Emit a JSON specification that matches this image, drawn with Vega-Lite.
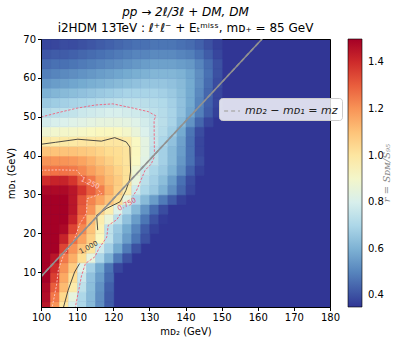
{
"$schema":"https://vega.github.io/schema/vega-lite/v6.json",
"width":289,"height":268,
"autosize":{"type":"none"},
"padding":{"left":41,"top":39,"right":77,"bottom":39},
"config":{"view":{"fill":"#313695","stroke":"black","strokeWidth":1},"font":"DejaVu Sans",
 "axis":{"grid":false,"labelFontSize":10,"labelColor":"black","tickColor":"black","domainColor":"black","tickSize":3.5,"labelPadding":2,"labelFlush":false,"titleFontSize":10,"titleFontWeight":"normal","titleColor":"black","labelFont":"DejaVu Sans","titleFont":"DejaVu Sans"}},
"title":{"text":"pp → 2ℓ/3ℓ + DM, DM","subtitle":"i2HDM 13TeV : ℓ⁺ℓ⁻ + Eₜᵐⁱˢˢ, mᴅ₊ = 85 GeV","fontSize":12,"fontStyle":"italic","fontWeight":"normal","font":"DejaVu Sans","subtitleFont":"DejaVu Sans","subtitleFontSize":12,"subtitleColor":"black","subtitlePadding":4,"offset":-1,"anchor":"middle","color":"black"},
"datasets":{
"grid":[
{"x":101.25,"y":1.25,"v":1.45},{"x":103.75,"y":1.25,"v":1.2},{"x":106.25,"y":1.25,"v":1.0},{"x":108.75,"y":1.25,"v":0.8},{"x":111.25,"y":1.25,"v":0.7},{"x":113.75,"y":1.25,"v":0.62},{"x":116.25,"y":1.25,"v":0.52},{"x":118.75,"y":1.25,"v":0.42},
{"x":101.25,"y":3.75,"v":1.47},{"x":103.75,"y":3.75,"v":1.25},{"x":106.25,"y":3.75,"v":1.05},{"x":108.75,"y":3.75,"v":0.85},{"x":111.25,"y":3.75,"v":0.7},{"x":113.75,"y":3.75,"v":0.62},{"x":116.25,"y":3.75,"v":0.52},{"x":118.75,"y":3.75,"v":0.42},
{"x":101.25,"y":6.25,"v":1.48},{"x":103.75,"y":6.25,"v":1.3},{"x":106.25,"y":6.25,"v":1.12},{"x":108.75,"y":6.25,"v":0.98},{"x":111.25,"y":6.25,"v":0.74},{"x":113.75,"y":6.25,"v":0.63},{"x":116.25,"y":6.25,"v":0.53},{"x":118.75,"y":6.25,"v":0.43},
{"x":101.25,"y":8.75,"v":1.5},{"x":103.75,"y":8.75,"v":1.36},{"x":106.25,"y":8.75,"v":1.16},{"x":108.75,"y":8.75,"v":1.03},{"x":111.25,"y":8.75,"v":0.77},{"x":113.75,"y":8.75,"v":0.64},{"x":116.25,"y":8.75,"v":0.55},{"x":118.75,"y":8.75,"v":0.45},
{"x":101.25,"y":11.25,"v":1.5},{"x":103.75,"y":11.25,"v":1.4},{"x":106.25,"y":11.25,"v":1.2},{"x":108.75,"y":11.25,"v":1.08},{"x":111.25,"y":11.25,"v":0.82},{"x":113.75,"y":11.25,"v":0.68},{"x":116.25,"y":11.25,"v":0.58},{"x":118.75,"y":11.25,"v":0.47},{"x":121.25,"y":11.25,"v":0.38},
{"x":101.25,"y":13.75,"v":1.5},{"x":103.75,"y":13.75,"v":1.45},{"x":106.25,"y":13.75,"v":1.25},{"x":108.75,"y":13.75,"v":1.15},{"x":111.25,"y":13.75,"v":1.03},{"x":113.75,"y":13.75,"v":0.85},{"x":116.25,"y":13.75,"v":0.7},{"x":118.75,"y":13.75,"v":0.6},{"x":121.25,"y":13.75,"v":0.48},{"x":123.75,"y":13.75,"v":0.4},
{"x":101.25,"y":16.25,"v":1.5},{"x":103.75,"y":16.25,"v":1.5},{"x":106.25,"y":16.25,"v":1.35},{"x":108.75,"y":16.25,"v":1.2},{"x":111.25,"y":16.25,"v":1.1},{"x":113.75,"y":16.25,"v":1.0},{"x":116.25,"y":16.25,"v":0.78},{"x":118.75,"y":16.25,"v":0.68},{"x":121.25,"y":16.25,"v":0.58},{"x":123.75,"y":16.25,"v":0.48},{"x":126.25,"y":16.25,"v":0.4},
{"x":101.25,"y":18.75,"v":1.5},{"x":103.75,"y":18.75,"v":1.5},{"x":106.25,"y":18.75,"v":1.42},{"x":108.75,"y":18.75,"v":1.27},{"x":111.25,"y":18.75,"v":1.17},{"x":113.75,"y":18.75,"v":1.07},{"x":116.25,"y":18.75,"v":0.93},{"x":118.75,"y":18.75,"v":0.74},{"x":121.25,"y":18.75,"v":0.64},{"x":123.75,"y":18.75,"v":0.55},{"x":126.25,"y":18.75,"v":0.47},{"x":128.75,"y":18.75,"v":0.4},
{"x":101.25,"y":21.25,"v":1.5},{"x":103.75,"y":21.25,"v":1.5},{"x":106.25,"y":21.25,"v":1.48},{"x":108.75,"y":21.25,"v":1.35},{"x":111.25,"y":21.25,"v":1.22},{"x":113.75,"y":21.25,"v":1.1},{"x":116.25,"y":21.25,"v":0.95},{"x":118.75,"y":21.25,"v":0.74},{"x":121.25,"y":21.25,"v":0.66},{"x":123.75,"y":21.25,"v":0.58},{"x":126.25,"y":21.25,"v":0.5},{"x":128.75,"y":21.25,"v":0.42},{"x":131.25,"y":21.25,"v":0.37},
{"x":101.25,"y":23.75,"v":1.5},{"x":103.75,"y":23.75,"v":1.5},{"x":106.25,"y":23.75,"v":1.5},{"x":108.75,"y":23.75,"v":1.42},{"x":111.25,"y":23.75,"v":1.27},{"x":113.75,"y":23.75,"v":1.12},{"x":116.25,"y":23.75,"v":0.97},{"x":118.75,"y":23.75,"v":0.86},{"x":121.25,"y":23.75,"v":0.73},{"x":123.75,"y":23.75,"v":0.64},{"x":126.25,"y":23.75,"v":0.55},{"x":128.75,"y":23.75,"v":0.47},{"x":131.25,"y":23.75,"v":0.4},{"x":133.75,"y":23.75,"v":0.36},
{"x":101.25,"y":26.25,"v":1.5},{"x":103.75,"y":26.25,"v":1.5},{"x":106.25,"y":26.25,"v":1.5},{"x":108.75,"y":26.25,"v":1.45},{"x":111.25,"y":26.25,"v":1.3},{"x":113.75,"y":26.25,"v":1.2},{"x":116.25,"y":26.25,"v":1.07},{"x":118.75,"y":26.25,"v":0.97},{"x":121.25,"y":26.25,"v":0.82},{"x":123.75,"y":26.25,"v":0.71},{"x":126.25,"y":26.25,"v":0.62},{"x":128.75,"y":26.25,"v":0.53},{"x":131.25,"y":26.25,"v":0.45},{"x":133.75,"y":26.25,"v":0.39},
{"x":101.25,"y":28.75,"v":1.5},{"x":103.75,"y":28.75,"v":1.5},{"x":106.25,"y":28.75,"v":1.5},{"x":108.75,"y":28.75,"v":1.45},{"x":111.25,"y":28.75,"v":1.32},{"x":113.75,"y":28.75,"v":1.23},{"x":116.25,"y":28.75,"v":1.17},{"x":118.75,"y":28.75,"v":1.1},{"x":121.25,"y":28.75,"v":1.03},{"x":123.75,"y":28.75,"v":0.85},{"x":126.25,"y":28.75,"v":0.7},{"x":128.75,"y":28.75,"v":0.62},{"x":131.25,"y":28.75,"v":0.55},{"x":133.75,"y":28.75,"v":0.48},{"x":136.25,"y":28.75,"v":0.42},{"x":138.75,"y":28.75,"v":0.37},
{"x":101.25,"y":31.25,"v":1.48},{"x":103.75,"y":31.25,"v":1.48},{"x":106.25,"y":31.25,"v":1.48},{"x":108.75,"y":31.25,"v":1.45},{"x":111.25,"y":31.25,"v":1.38},{"x":113.75,"y":31.25,"v":1.3},{"x":116.25,"y":31.25,"v":1.24},{"x":118.75,"y":31.25,"v":1.15},{"x":121.25,"y":31.25,"v":1.07},{"x":123.75,"y":31.25,"v":0.98},{"x":126.25,"y":31.25,"v":0.78},{"x":128.75,"y":31.25,"v":0.7},{"x":131.25,"y":31.25,"v":0.66},{"x":133.75,"y":31.25,"v":0.6},{"x":136.25,"y":31.25,"v":0.52},{"x":138.75,"y":31.25,"v":0.44},{"x":141.25,"y":31.25,"v":0.38},
{"x":101.25,"y":33.75,"v":1.4},{"x":103.75,"y":33.75,"v":1.42},{"x":106.25,"y":33.75,"v":1.42},{"x":108.75,"y":33.75,"v":1.38},{"x":111.25,"y":33.75,"v":1.3},{"x":113.75,"y":33.75,"v":1.25},{"x":116.25,"y":33.75,"v":1.18},{"x":118.75,"y":33.75,"v":1.12},{"x":121.25,"y":33.75,"v":1.08},{"x":123.75,"y":33.75,"v":1.02},{"x":126.25,"y":33.75,"v":0.85},{"x":128.75,"y":33.75,"v":0.73},{"x":131.25,"y":33.75,"v":0.68},{"x":133.75,"y":33.75,"v":0.63},{"x":136.25,"y":33.75,"v":0.55},{"x":138.75,"y":33.75,"v":0.46},{"x":141.25,"y":33.75,"v":0.39},
{"x":101.25,"y":36.25,"v":1.25},{"x":103.75,"y":36.25,"v":1.26},{"x":106.25,"y":36.25,"v":1.26},{"x":108.75,"y":36.25,"v":1.25},{"x":111.25,"y":36.25,"v":1.22},{"x":113.75,"y":36.25,"v":1.18},{"x":116.25,"y":36.25,"v":1.14},{"x":118.75,"y":36.25,"v":1.1},{"x":121.25,"y":36.25,"v":1.06},{"x":123.75,"y":36.25,"v":1.02},{"x":126.25,"y":36.25,"v":0.88},{"x":128.75,"y":36.25,"v":0.76},{"x":131.25,"y":36.25,"v":0.7},{"x":133.75,"y":36.25,"v":0.66},{"x":136.25,"y":36.25,"v":0.6},{"x":138.75,"y":36.25,"v":0.52},{"x":141.25,"y":36.25,"v":0.43},{"x":143.75,"y":36.25,"v":0.37},
{"x":101.25,"y":38.75,"v":1.2},{"x":103.75,"y":38.75,"v":1.2},{"x":106.25,"y":38.75,"v":1.2},{"x":108.75,"y":38.75,"v":1.19},{"x":111.25,"y":38.75,"v":1.17},{"x":113.75,"y":38.75,"v":1.14},{"x":116.25,"y":38.75,"v":1.1},{"x":118.75,"y":38.75,"v":1.07},{"x":121.25,"y":38.75,"v":1.04},{"x":123.75,"y":38.75,"v":1.01},{"x":126.25,"y":38.75,"v":0.92},{"x":128.75,"y":38.75,"v":0.83},{"x":131.25,"y":38.75,"v":0.74},{"x":133.75,"y":38.75,"v":0.68},{"x":136.25,"y":38.75,"v":0.62},{"x":138.75,"y":38.75,"v":0.54},{"x":141.25,"y":38.75,"v":0.46},{"x":143.75,"y":38.75,"v":0.39},
{"x":101.25,"y":41.25,"v":1.1},{"x":103.75,"y":41.25,"v":1.1},{"x":106.25,"y":41.25,"v":1.1},{"x":108.75,"y":41.25,"v":1.1},{"x":111.25,"y":41.25,"v":1.09},{"x":113.75,"y":41.25,"v":1.08},{"x":116.25,"y":41.25,"v":1.06},{"x":118.75,"y":41.25,"v":1.04},{"x":121.25,"y":41.25,"v":1.03},{"x":123.75,"y":41.25,"v":1.01},{"x":126.25,"y":41.25,"v":0.93},{"x":128.75,"y":41.25,"v":0.84},{"x":131.25,"y":41.25,"v":0.74},{"x":133.75,"y":41.25,"v":0.68},{"x":136.25,"y":41.25,"v":0.62},{"x":138.75,"y":41.25,"v":0.55},{"x":141.25,"y":41.25,"v":0.46},{"x":143.75,"y":41.25,"v":0.38},
{"x":101.25,"y":43.75,"v":0.98},{"x":103.75,"y":43.75,"v":0.98},{"x":106.25,"y":43.75,"v":0.99},{"x":108.75,"y":43.75,"v":0.99},{"x":111.25,"y":43.75,"v":1.0},{"x":113.75,"y":43.75,"v":1.0},{"x":116.25,"y":43.75,"v":1.0},{"x":118.75,"y":43.75,"v":1.0},{"x":121.25,"y":43.75,"v":1.0},{"x":123.75,"y":43.75,"v":0.98},{"x":126.25,"y":43.75,"v":0.92},{"x":128.75,"y":43.75,"v":0.84},{"x":131.25,"y":43.75,"v":0.76},{"x":133.75,"y":43.75,"v":0.7},{"x":136.25,"y":43.75,"v":0.64},{"x":138.75,"y":43.75,"v":0.56},{"x":141.25,"y":43.75,"v":0.46},{"x":143.75,"y":43.75,"v":0.38},
{"x":101.25,"y":46.25,"v":0.88},{"x":103.75,"y":46.25,"v":0.89},{"x":106.25,"y":46.25,"v":0.9},{"x":108.75,"y":46.25,"v":0.9},{"x":111.25,"y":46.25,"v":0.91},{"x":113.75,"y":46.25,"v":0.92},{"x":116.25,"y":46.25,"v":0.93},{"x":118.75,"y":46.25,"v":0.93},{"x":121.25,"y":46.25,"v":0.92},{"x":123.75,"y":46.25,"v":0.9},{"x":126.25,"y":46.25,"v":0.86},{"x":128.75,"y":46.25,"v":0.81},{"x":131.25,"y":46.25,"v":0.76},{"x":133.75,"y":46.25,"v":0.72},{"x":136.25,"y":46.25,"v":0.67},{"x":138.75,"y":46.25,"v":0.58},{"x":141.25,"y":46.25,"v":0.47},{"x":143.75,"y":46.25,"v":0.39},
{"x":101.25,"y":48.75,"v":0.79},{"x":103.75,"y":48.75,"v":0.8},{"x":106.25,"y":48.75,"v":0.81},{"x":108.75,"y":48.75,"v":0.82},{"x":111.25,"y":48.75,"v":0.83},{"x":113.75,"y":48.75,"v":0.84},{"x":116.25,"y":48.75,"v":0.85},{"x":118.75,"y":48.75,"v":0.85},{"x":121.25,"y":48.75,"v":0.85},{"x":123.75,"y":48.75,"v":0.84},{"x":126.25,"y":48.75,"v":0.82},{"x":128.75,"y":48.75,"v":0.79},{"x":131.25,"y":48.75,"v":0.76},{"x":133.75,"y":48.75,"v":0.73},{"x":136.25,"y":48.75,"v":0.69},{"x":138.75,"y":48.75,"v":0.62},{"x":141.25,"y":48.75,"v":0.53},{"x":143.75,"y":48.75,"v":0.44},{"x":146.25,"y":48.75,"v":0.38},
{"x":101.25,"y":51.25,"v":0.72},{"x":103.75,"y":51.25,"v":0.73},{"x":106.25,"y":51.25,"v":0.74},{"x":108.75,"y":51.25,"v":0.75},{"x":111.25,"y":51.25,"v":0.77},{"x":113.75,"y":51.25,"v":0.78},{"x":116.25,"y":51.25,"v":0.79},{"x":118.75,"y":51.25,"v":0.8},{"x":121.25,"y":51.25,"v":0.8},{"x":123.75,"y":51.25,"v":0.79},{"x":126.25,"y":51.25,"v":0.78},{"x":128.75,"y":51.25,"v":0.76},{"x":131.25,"y":51.25,"v":0.74},{"x":133.75,"y":51.25,"v":0.72},{"x":136.25,"y":51.25,"v":0.69},{"x":138.75,"y":51.25,"v":0.64},{"x":141.25,"y":51.25,"v":0.57},{"x":143.75,"y":51.25,"v":0.49},{"x":146.25,"y":51.25,"v":0.42},{"x":148.75,"y":51.25,"v":0.37},
{"x":101.25,"y":53.75,"v":0.66},{"x":103.75,"y":53.75,"v":0.67},{"x":106.25,"y":53.75,"v":0.68},{"x":108.75,"y":53.75,"v":0.69},{"x":111.25,"y":53.75,"v":0.7},{"x":113.75,"y":53.75,"v":0.71},{"x":116.25,"y":53.75,"v":0.72},{"x":118.75,"y":53.75,"v":0.73},{"x":121.25,"y":53.75,"v":0.74},{"x":123.75,"y":53.75,"v":0.74},{"x":126.25,"y":53.75,"v":0.74},{"x":128.75,"y":53.75,"v":0.73},{"x":131.25,"y":53.75,"v":0.72},{"x":133.75,"y":53.75,"v":0.71},{"x":136.25,"y":53.75,"v":0.68},{"x":138.75,"y":53.75,"v":0.64},{"x":141.25,"y":53.75,"v":0.58},{"x":143.75,"y":53.75,"v":0.5},{"x":146.25,"y":53.75,"v":0.43},{"x":148.75,"y":53.75,"v":0.38},
{"x":101.25,"y":56.25,"v":0.6},{"x":103.75,"y":56.25,"v":0.61},{"x":106.25,"y":56.25,"v":0.62},{"x":108.75,"y":56.25,"v":0.63},{"x":111.25,"y":56.25,"v":0.64},{"x":113.75,"y":56.25,"v":0.65},{"x":116.25,"y":56.25,"v":0.66},{"x":118.75,"y":56.25,"v":0.67},{"x":121.25,"y":56.25,"v":0.68},{"x":123.75,"y":56.25,"v":0.69},{"x":126.25,"y":56.25,"v":0.69},{"x":128.75,"y":56.25,"v":0.69},{"x":131.25,"y":56.25,"v":0.69},{"x":133.75,"y":56.25,"v":0.68},{"x":136.25,"y":56.25,"v":0.66},{"x":138.75,"y":56.25,"v":0.63},{"x":141.25,"y":56.25,"v":0.58},{"x":143.75,"y":56.25,"v":0.51},{"x":146.25,"y":56.25,"v":0.44},{"x":148.75,"y":56.25,"v":0.38},
{"x":101.25,"y":58.75,"v":0.54},{"x":103.75,"y":58.75,"v":0.55},{"x":106.25,"y":58.75,"v":0.56},{"x":108.75,"y":58.75,"v":0.57},{"x":111.25,"y":58.75,"v":0.58},{"x":113.75,"y":58.75,"v":0.59},{"x":116.25,"y":58.75,"v":0.6},{"x":118.75,"y":58.75,"v":0.61},{"x":121.25,"y":58.75,"v":0.62},{"x":123.75,"y":58.75,"v":0.63},{"x":126.25,"y":58.75,"v":0.64},{"x":128.75,"y":58.75,"v":0.65},{"x":131.25,"y":58.75,"v":0.65},{"x":133.75,"y":58.75,"v":0.65},{"x":136.25,"y":58.75,"v":0.64},{"x":138.75,"y":58.75,"v":0.62},{"x":141.25,"y":58.75,"v":0.58},{"x":143.75,"y":58.75,"v":0.52},{"x":146.25,"y":58.75,"v":0.45},{"x":148.75,"y":58.75,"v":0.39},
{"x":101.25,"y":61.25,"v":0.49},{"x":103.75,"y":61.25,"v":0.5},{"x":106.25,"y":61.25,"v":0.51},{"x":108.75,"y":61.25,"v":0.52},{"x":111.25,"y":61.25,"v":0.53},{"x":113.75,"y":61.25,"v":0.54},{"x":116.25,"y":61.25,"v":0.55},{"x":118.75,"y":61.25,"v":0.56},{"x":121.25,"y":61.25,"v":0.57},{"x":123.75,"y":61.25,"v":0.58},{"x":126.25,"y":61.25,"v":0.59},{"x":128.75,"y":61.25,"v":0.6},{"x":131.25,"y":61.25,"v":0.61},{"x":133.75,"y":61.25,"v":0.61},{"x":136.25,"y":61.25,"v":0.61},{"x":138.75,"y":61.25,"v":0.6},{"x":141.25,"y":61.25,"v":0.57},{"x":143.75,"y":61.25,"v":0.52},{"x":146.25,"y":61.25,"v":0.46},{"x":148.75,"y":61.25,"v":0.4},
{"x":101.25,"y":63.75,"v":0.45},{"x":103.75,"y":63.75,"v":0.46},{"x":106.25,"y":63.75,"v":0.46},{"x":108.75,"y":63.75,"v":0.47},{"x":111.25,"y":63.75,"v":0.48},{"x":113.75,"y":63.75,"v":0.49},{"x":116.25,"y":63.75,"v":0.5},{"x":118.75,"y":63.75,"v":0.51},{"x":121.25,"y":63.75,"v":0.52},{"x":123.75,"y":63.75,"v":0.53},{"x":126.25,"y":63.75,"v":0.54},{"x":128.75,"y":63.75,"v":0.55},{"x":131.25,"y":63.75,"v":0.56},{"x":133.75,"y":63.75,"v":0.56},{"x":136.25,"y":63.75,"v":0.56},{"x":138.75,"y":63.75,"v":0.55},{"x":141.25,"y":63.75,"v":0.54},{"x":143.75,"y":63.75,"v":0.5},{"x":146.25,"y":63.75,"v":0.45},{"x":148.75,"y":63.75,"v":0.4},
{"x":101.25,"y":66.25,"v":0.41},{"x":103.75,"y":66.25,"v":0.42},{"x":106.25,"y":66.25,"v":0.42},{"x":108.75,"y":66.25,"v":0.43},{"x":111.25,"y":66.25,"v":0.44},{"x":113.75,"y":66.25,"v":0.45},{"x":116.25,"y":66.25,"v":0.46},{"x":118.75,"y":66.25,"v":0.47},{"x":121.25,"y":66.25,"v":0.48},{"x":123.75,"y":66.25,"v":0.49},{"x":126.25,"y":66.25,"v":0.5},{"x":128.75,"y":66.25,"v":0.5},{"x":131.25,"y":66.25,"v":0.51},{"x":133.75,"y":66.25,"v":0.51},{"x":136.25,"y":66.25,"v":0.51},{"x":138.75,"y":66.25,"v":0.5},{"x":141.25,"y":66.25,"v":0.49},{"x":143.75,"y":66.25,"v":0.46},{"x":146.25,"y":66.25,"v":0.42},{"x":148.75,"y":66.25,"v":0.38},
{"x":101.25,"y":68.75,"v":0.38},{"x":103.75,"y":68.75,"v":0.38},{"x":106.25,"y":68.75,"v":0.39},{"x":108.75,"y":68.75,"v":0.39},{"x":111.25,"y":68.75,"v":0.4},{"x":113.75,"y":68.75,"v":0.41},{"x":116.25,"y":68.75,"v":0.42},{"x":118.75,"y":68.75,"v":0.43},{"x":121.25,"y":68.75,"v":0.44},{"x":123.75,"y":68.75,"v":0.45},{"x":126.25,"y":68.75,"v":0.46},{"x":128.75,"y":68.75,"v":0.46},{"x":131.25,"y":68.75,"v":0.47},{"x":133.75,"y":68.75,"v":0.47},{"x":136.25,"y":68.75,"v":0.47},{"x":138.75,"y":68.75,"v":0.46},{"x":141.25,"y":68.75,"v":0.45},{"x":143.75,"y":68.75,"v":0.43},{"x":146.25,"y":68.75,"v":0.4},{"x":148.75,"y":68.75,"v":0.37}
],
"c100":[
{"s":1,"o":1,"x":100,"y":42.9},{"s":1,"o":2,"x":104,"y":43.4},{"s":1,"o":3,"x":110.2,"y":44.2},{"s":1,"o":4,"x":116.7,"y":43.7},{"s":1,"o":5,"x":120.4,"y":44.6},{"s":1,"o":6,"x":123.6,"y":43.5},{"s":1,"o":7,"x":124.6,"y":42.2},{"s":1,"o":8,"x":124.8,"y":36},{"s":1,"o":9,"x":124.5,"y":33.7},{"s":1,"o":10,"x":123.5,"y":31},{"s":1,"o":11,"x":121.9,"y":28.1},{"s":1,"o":12,"x":118.2,"y":26.4},{"s":1,"o":13,"x":115.4,"y":24.6},{"s":1,"o":14,"x":115.7,"y":20.8},
{"s":2,"o":1,"x":110.7,"y":12.2},{"s":2,"o":2,"x":109.3,"y":10},{"s":2,"o":3,"x":107.5,"y":5.3},{"s":2,"o":4,"x":106.1,"y":0.5}
],
"c075":[
{"s":1,"o":1,"x":100,"y":49.9},{"s":1,"o":2,"x":105,"y":51.1},{"s":1,"o":3,"x":110,"y":52.2},{"s":1,"o":4,"x":115,"y":53},{"s":1,"o":5,"x":119.9,"y":53.3},{"s":1,"o":6,"x":125,"y":52.3},{"s":1,"o":7,"x":129.7,"y":51.3},{"s":1,"o":8,"x":131.8,"y":50.2},{"s":1,"o":9,"x":131.3,"y":49.1},{"s":1,"o":10,"x":131.4,"y":39.7},{"s":1,"o":11,"x":130.5,"y":37.8},{"s":1,"o":12,"x":128.8,"y":36.2},{"s":1,"o":13,"x":126.5,"y":31.1},{"s":1,"o":14,"x":125.5,"y":29.6},
{"s":2,"o":1,"x":122,"y":25},{"s":2,"o":2,"x":121,"y":23.5},{"s":2,"o":3,"x":118.6,"y":22},{"s":2,"o":4,"x":118.2,"y":19},{"s":2,"o":5,"x":116,"y":16},{"s":2,"o":6,"x":114.9,"y":13.9},{"s":2,"o":7,"x":112.3,"y":12.2},{"s":2,"o":8,"x":111.2,"y":9},{"s":2,"o":9,"x":110.8,"y":7},{"s":2,"o":10,"x":109.4,"y":0.5}
],
"c125":[
{"s":1,"o":1,"x":100,"y":36.2},{"s":1,"o":2,"x":105,"y":36.3},{"s":1,"o":3,"x":109.9,"y":36.2},{"s":1,"o":4,"x":111.4,"y":34.6},
{"s":2,"o":1,"x":116,"y":31},{"s":2,"o":2,"x":116.8,"y":30.2},{"s":2,"o":3,"x":112.8,"y":28.9},{"s":2,"o":4,"x":112.6,"y":25.1},{"s":2,"o":5,"x":110.8,"y":22.5},{"s":2,"o":6,"x":109,"y":17.8},{"s":2,"o":7,"x":106.2,"y":14.3},{"s":2,"o":8,"x":104.8,"y":10.5},{"s":2,"o":9,"x":104.3,"y":6.6},{"s":2,"o":10,"x":103,"y":0.5}
],
"diag":[{"x":100,"y":8.81},{"x":161.19,"y":70}]
},
"layer":[
{"data":{"name":"grid"},
 "mark":{"type":"rect","clip":true,"binSpacing":0,"stroke":{"expr":"scale('color', datum.v)"},"strokeWidth":0.6},
 "encoding":{
  "x":{"field":"x","type":"quantitative","bin":{"step":2.5,"extent":[100,150]},"scale":{"domain":[100,180],"nice":false,"zero":false,"padding":0},"axis":{"title":"mᴅ₂ (GeV)","values":[100,110,120,130,140,150,160,170,180],"format":"d","titlePadding":4,"labelFlush":false}},
  "y":{"field":"y","type":"quantitative","bin":{"step":2.5,"extent":[0,70]},"scale":{"domain":[1,70],"nice":false,"zero":false,"padding":0},"axis":{"title":"mᴅ₁ (GeV)","values":[10,20,30,40,50,60,70],"format":"d","titlePadding":6,"labelFlush":false}},
  "color":{"field":"v","type":"quantitative","scale":{"scheme":"redyellowblue","reverse":true,"domain":[0.35,1.5]},
   "legend":{"type":"gradient","title":"r = Sᴅᴍ/S₉₅","orient":"right","offset":18,"padding":0,"gradientLength":268,"gradientThickness":14,"values":[0.4,0.6,0.8,1.0,1.2,1.4],"format":".1f","labelFontSize":10,"labelColor":"black","labelOffset":6,"gradientStrokeColor":"black","gradientStrokeWidth":0.6,"titleOrient":"right","titleFontStyle":"italic","titleFont":"DejaVu Serif","titleColor":"#888888","titleFontSize":10,"titleFontWeight":"normal","titlePadding":8,"direction":"vertical",
    "encode":{"title":{"update":{"angle":{"value":-90},"align":{"value":"center"},"baseline":{"value":"bottom"}}}}}}
 }},
{"data":{"name":"c125"},"mark":{"type":"line","clip":true,"color":"#ffc8c8","strokeWidth":0.9,"strokeDash":[2,1.5]},
 "encoding":{"x":{"field":"x","type":"quantitative"},"y":{"field":"y","type":"quantitative"},"detail":{"field":"s"},"order":{"field":"o"}}},
{"data":{"name":"c100"},"mark":{"type":"line","clip":true,"color":"#3a3a3a","strokeWidth":0.9},
 "encoding":{"x":{"field":"x","type":"quantitative"},"y":{"field":"y","type":"quantitative"},"detail":{"field":"s"},"order":{"field":"o"}}},
{"data":{"name":"c075"},"mark":{"type":"line","clip":true,"color":"#f0607a","strokeWidth":0.9,"strokeDash":[2.5,1.5]},
 "encoding":{"x":{"field":"x","type":"quantitative"},"y":{"field":"y","type":"quantitative"},"detail":{"field":"s"},"order":{"field":"o"}}},
{"data":{"values":[{"x":113.6,"y":32.9,"t":"1.250"}]},"mark":{"type":"text","fontSize":7,"color":"#ffc8c8","angle":25},
 "encoding":{"x":{"field":"x","type":"quantitative"},"y":{"field":"y","type":"quantitative"},"text":{"field":"t"}}},
{"data":{"values":[{"x":123.8,"y":27.4,"t":"0.750"}]},"mark":{"type":"text","fontSize":7,"color":"#e8506a","angle":-28},
 "encoding":{"x":{"field":"x","type":"quantitative"},"y":{"field":"y","type":"quantitative"},"text":{"field":"t"}}},
{"data":{"values":[{"x":113.2,"y":16.3,"t":"1.000"}]},"mark":{"type":"text","fontSize":7,"color":"#333333","angle":-28},
 "encoding":{"x":{"field":"x","type":"quantitative"},"y":{"field":"y","type":"quantitative"},"text":{"field":"t"}}},
{"data":{"name":"diag"},"mark":{"type":"line","clip":true,"color":"#919191","strokeWidth":1.5},
 "encoding":{"x":{"field":"x","type":"quantitative"},"y":{"field":"y","type":"quantitative"}}},
{"data":{"name":"diag"},"mark":{"type":"line","clip":true,"color":"#919191","strokeWidth":1.5},
 "encoding":{"x":{"field":"x","type":"quantitative"},"y":{"field":"y","type":"quantitative"},
  "strokeDash":{"datum":"mᴅ₂ − mᴅ₁ = mᴢ","scale":{"range":[[4,3]]},
   "legend":{"orient":"none","legendX":178,"legendY":59,"title":null,"fillColor":"rgba(255,255,255,0.82)","strokeColor":"#cccccc","cornerRadius":3,"padding":4,"labelFontSize":11,"labelFontStyle":"italic","labelColor":"#222222","symbolType":"stroke","symbolStrokeColor":"#b0b0b0","symbolSize":250,"symbolStrokeWidth":1.3}}}}
]
}
